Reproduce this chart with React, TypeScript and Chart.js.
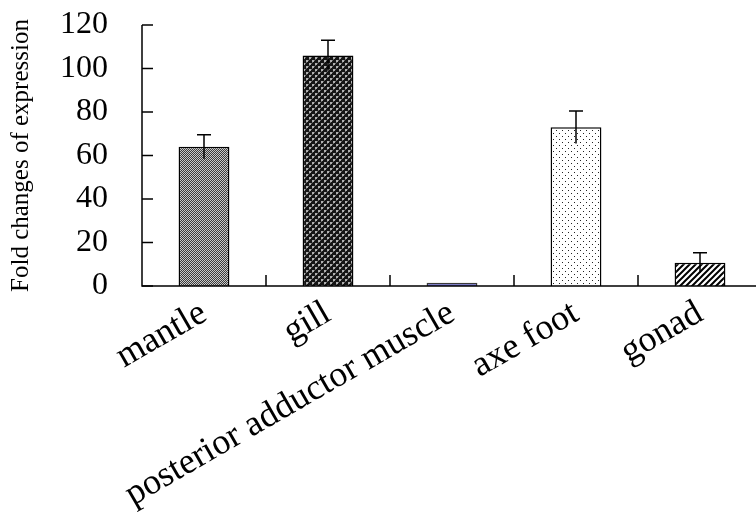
import React, { useEffect, useRef } from "react";
import { Chart, registerables } from "chart.js";

Chart.register(...registerables);

const categories = ["mantle", "gill", "posterior adductor muscle", "axe foot", "gonad"];
const values = [64, 106, 1.5, 73, 10.7];
const errors = [5.5, 7, 0, 7.5, 4.6];
const yTicks = [0, 20, 40, 60, 80, 100, 120];

const SERIF = '"Liberation Serif", "Times New Roman", serif';

function makePattern(kind: string): CanvasPattern | string {
  const c = document.createElement("canvas");
  const ctx = c.getContext("2d");
  if (!ctx) return "#888";
  if (kind === "mantle") {
    c.width = 2; c.height = 2;
    ctx.fillStyle = "#3a3a3a"; ctx.fillRect(0, 0, 2, 2);
    ctx.fillStyle = "#c8c8c8"; ctx.fillRect(0, 0, 1, 1); ctx.fillRect(1, 1, 1, 1);
  } else if (kind === "gill") {
    c.width = 6; c.height = 6;
    ctx.fillStyle = "#151515"; ctx.fillRect(0, 0, 6, 6);
    ctx.fillStyle = "#b0b0b0";
    ctx.fillRect(0, 0, 2, 2); ctx.fillRect(3, 3, 2, 2);
    ctx.fillStyle = "#6a6a6a";
    ctx.fillRect(2, 0, 1, 1); ctx.fillRect(0, 2, 1, 1); ctx.fillRect(5, 3, 1, 1); ctx.fillRect(3, 5, 1, 1);
  } else if (kind === "axe") {
    c.width = 6; c.height = 6;
    ctx.fillStyle = "#ffffff"; ctx.fillRect(0, 0, 6, 6);
    ctx.fillStyle = "#222"; ctx.fillRect(1, 1, 1, 1); ctx.fillRect(4, 4, 1, 1);
  } else if (kind === "gonad") {
    c.width = 6; c.height = 6;
    ctx.fillStyle = "#ffffff"; ctx.fillRect(0, 0, 6, 6);
    ctx.strokeStyle = "#000"; ctx.lineWidth = 2;
    ctx.beginPath();
    ctx.moveTo(-1, 7); ctx.lineTo(7, -1);
    ctx.moveTo(-4, 4); ctx.lineTo(4, -4);
    ctx.moveTo(2, 10); ctx.lineTo(10, 2);
    ctx.stroke();
  } else {
    return "#6464c4";
  }
  const p = ctx.createPattern(c, "repeat");
  return p || "#888";
}

const axesAndErrors = {
  id: "axesAndErrors",
  afterDatasetsDraw(chart: any) {
    const { ctx, chartArea, scales } = chart;
    const x = scales.x;
    const y = scales.y;
    ctx.save();
    ctx.strokeStyle = "#000";
    ctx.lineWidth = 1.5;
    const y0 = y.getPixelForValue(0);
    const yTop = y.getPixelForValue(120);
    ctx.beginPath();
    ctx.moveTo(chartArea.left, yTop);
    ctx.lineTo(chartArea.left, y0);
    ctx.lineTo(chartArea.right, y0);
    ctx.stroke();
    yTicks.forEach((v) => {
      const py = y.getPixelForValue(v);
      ctx.beginPath();
      ctx.moveTo(chartArea.left, py);
      ctx.lineTo(chartArea.left + 11, py);
      ctx.stroke();
    });
    for (let i = 0; i < categories.length - 1; i++) {
      const px = (x.getPixelForValue(i) + x.getPixelForValue(i + 1)) / 2;
      ctx.beginPath();
      ctx.moveTo(px, y0);
      ctx.lineTo(px, y0 - 11);
      ctx.stroke();
    }
    const meta = chart.getDatasetMeta(0);
    meta.data.forEach((bar: any, i: number) => {
      const e = errors[i];
      if (!e) return;
      const cx = bar.x;
      const top = y.getPixelForValue(values[i] + e);
      const bot = y.getPixelForValue(values[i] - e);
      ctx.beginPath();
      ctx.moveTo(cx, bot);
      ctx.lineTo(cx, top);
      ctx.moveTo(cx - 7, top);
      ctx.lineTo(cx + 7, top);
      ctx.stroke();
    });
    ctx.restore();
  },
};

export default function App() {
  const ref = useRef<HTMLCanvasElement | null>(null);
  useEffect(() => {
    document.body.style.margin = "0";
    document.body.style.overflow = "hidden";
    const canvas = ref.current;
    if (!canvas) return;
    const fills = [makePattern("mantle"), makePattern("gill"), makePattern("post"), makePattern("axe"), makePattern("gonad")];
    const chart = new Chart(canvas, {
      type: "bar",
      data: {
        labels: categories,
        datasets: [
          {
            data: values,
            backgroundColor: fills as any,
            borderColor: ["#000", "#000", "#3a3a3a", "#000", "#000"],
            borderWidth: 1.5,
            barPercentage: 0.41,
            categoryPercentage: 1,
          },
        ],
      },
      options: {
        animation: false,
        responsive: false,
        maintainAspectRatio: false,
        devicePixelRatio: 1,
        layout: { padding: { left: 0, right: 0, top: 25, bottom: 0 } },
        plugins: { legend: { display: false }, tooltip: { enabled: false } },
        scales: {
          x: {
            offset: true,
            grid: { display: false, drawTicks: false },
            border: { display: false },
            ticks: {
              color: "#000",
              font: { family: SERIF, size: 36 },
              maxRotation: 30,
              minRotation: 30,
              padding: 6,
              autoSkip: false,
            },
            afterFit: (s: any) => {
              s.height = 229;
              s.paddingLeft = 0;
              s.paddingRight = 0;
              s.paddingTop = 0;
              s.paddingBottom = 0;
            },
          },
          y: {
            min: 0,
            max: 120,
            grid: { display: false, drawTicks: false },
            border: { display: false },
            ticks: {
              stepSize: 20,
              autoSkip: false,
              color: "#000",
              font: { family: SERIF, size: 32 },
              padding: 34,
            },
            title: {
              display: true,
              text: "Fold changes of expression",
              color: "#000",
              font: { family: SERIF, size: 25 },
              padding: { top: 6, bottom: 0 },
            },
            afterFit: (s: any) => {
              s.width = 142;
              s.paddingTop = 0;
              s.paddingBottom = 0;
              s.paddingLeft = 0;
              s.paddingRight = 0;
            },
          },
        },
      },
      plugins: [axesAndErrors],
    });
    return () => chart.destroy();
  }, []);
  return <canvas ref={ref} width={762} height={515} style={{ display: "block" }} />;
}
